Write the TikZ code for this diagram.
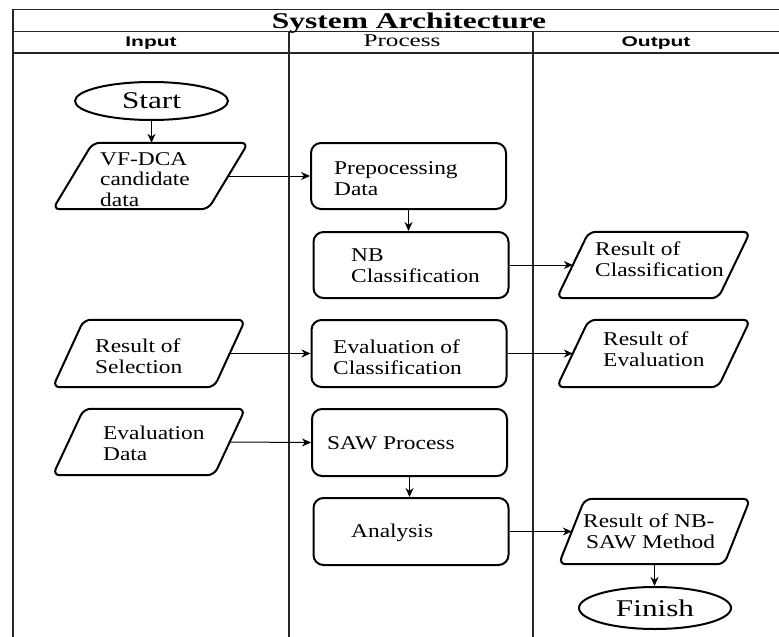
\documentclass[tikz,border=0pt]{standalone}
\usepackage{fontspec}
\setmainfont{Liberation Serif}
\newfontfamily\bodyf[FakeStretch=1.2]{Liberation Serif}
\newfontfamily\headf[FakeStretch=1.4]{Liberation Serif}
\newfontfamily\termf[FakeStretch=1.3]{Liberation Serif}
\newfontfamily\sansf[FakeStretch=1.5]{Liberation Sans}
\usetikzlibrary{arrows.meta,shapes.geometric}
\tikzset{
  frame/.style={line width=1.3pt, draw=black!85},
  procbox/.style={draw, rounded corners=10pt, line width=2pt, minimum width=195pt, minimum height=66pt, inner sep=0pt},
  iobb/.style={minimum width=193pt, minimum height=66pt, inner sep=0pt},
  term/.style={draw, ellipse, line width=2pt, inner sep=0pt, font=\termf\fontsize{24}{26}\selectfont},
  txt/.style={font=\bodyf\fontsize{19.5}{20.5}\selectfont, align=left, inner sep=0pt, anchor=base west},
  conn/.style={line width=1pt, -{Stealth[length=9pt,width=8pt]}},
}
\newcommand\iobox[2][34pt]{\draw[line width=2pt, rounded corners=7pt] (#2.south west) -- ([xshift=#1]#2.north west) -- (#2.north east) -- ([xshift=-#1]#2.south east) -- cycle;}
\begin{document}
\begin{tikzpicture}[x=1pt,y=-1pt]
\useasboundingbox (0,0) rectangle (779,637);
% frame
\draw[frame] (13,637) -- (13,9.5) -- (779,9.5);
\draw[frame] (13,31.5) -- (779,31.5);
\draw[frame] (13,53) -- (779,53);
\draw[frame] (289,31.5) -- (289,637);
\draw[frame] (533,31.5) -- (533,637);
% headers
\node[anchor=base, inner sep=0pt, font=\headf\bfseries\fontsize{22.5}{24}\selectfont] (title) at (409,28) {System Architecture};
\node[anchor=base, inner sep=0pt, font=\sansf\bfseries\fontsize{14}{16}\selectfont] (hin) at (151,46) {Input};
\node[anchor=base, inner sep=0pt, font=\headf\fontsize{18}{20}\selectfont] (hproc) at (402,46) {Process};
\node[anchor=base, inner sep=0pt, font=\sansf\bfseries\fontsize{14}{16}\selectfont] (hout) at (656,46) {Output};
% terminals
\node[term, minimum width=153pt, minimum height=38pt] (start) at (151.5,101) {Start};
\node[term, minimum width=152pt, minimum height=42pt] (fin) at (655,608) {Finish};
% process boxes
\node[procbox] (prep) at (408.5,176) {};
\node[procbox] (nb) at (411,265) {};
\node[procbox, minimum height=67pt] (ev) at (409,353.5) {};
\node[procbox, minimum height=67pt] (saw) at (409.5,442.5) {};
\node[procbox, minimum height=67pt] (an) at (411,531.5) {};
% io boxes
\node[iobb, minimum width=195pt] (vf) at (150.5,176) {};
\node[iobb, minimum width=192pt, minimum height=67pt] (rs) at (149,353.5) {};
\node[iobb, minimum width=192pt] (ed) at (149,442) {};
\node[iobb] (rc) at (653.5,265) {};
\node[iobb, minimum height=67pt] (re) at (653.5,353.5) {};
\node[iobb, minimum width=191pt, minimum height=65pt] (rn) at (654.5,531.5) {};
\iobox[40pt]{vf}
\iobox[31pt]{rs}
\iobox[31pt]{ed}
\iobox[32pt]{rc}
\iobox[32pt]{re}
\iobox[26pt]{rn}
% texts (anchor at baseline of last line)
\node[txt] (vft) at (100,206) {VF-DCA\\candidate\\data};
\node[txt] (prept) at (334,195) {Prepocessing\\Data};
\node[txt] (nbt) at (351,282) {NB\\Classification};
\node[txt] (rct) at (595,276) {Result of\\Classification};
\node[txt] (rst) at (95,373) {Result of\\Selection};
\node[txt] (evt) at (333,374) {Evaluation of\\Classification};
\node[txt] (ret) at (603,366) {Result of\\Evaluation};
\node[txt] (edt) at (103,460) {Evaluation\\Data};
\node[txt] (sawt) at (327,449) {SAW Process};
\node[txt] (ant) at (351,537) {Analysis};
\node[txt] (rnt) at (583,548) {Result of NB-\\\hspace*{3pt}SAW Method};
% connectors
\draw[conn] (start.south) -- (start.south |- vf.north);
\draw[conn] ([xshift=-20pt]vf.east) -- (prep.west);
\draw[conn] (prep.south) -- (prep.south |- nb.north);
\draw[conn] (nb.east) -- ([xshift=16pt]rc.west);
\draw[conn] ([xshift=-15.5pt]rs.east) -- (ev.west);
\draw[conn] (ev.east) -- ([xshift=16pt]re.west);
\draw[conn] ([xshift=-15.5pt]ed.east) -- (saw.west);
\draw[conn] (saw.south) -- (saw.south |- an.north);
\draw[conn] (an.east) -- ([xshift=13pt]rn.west);
\draw[conn] (rn.south) -- (rn.south |- fin.north);
\end{tikzpicture}
\end{document}
